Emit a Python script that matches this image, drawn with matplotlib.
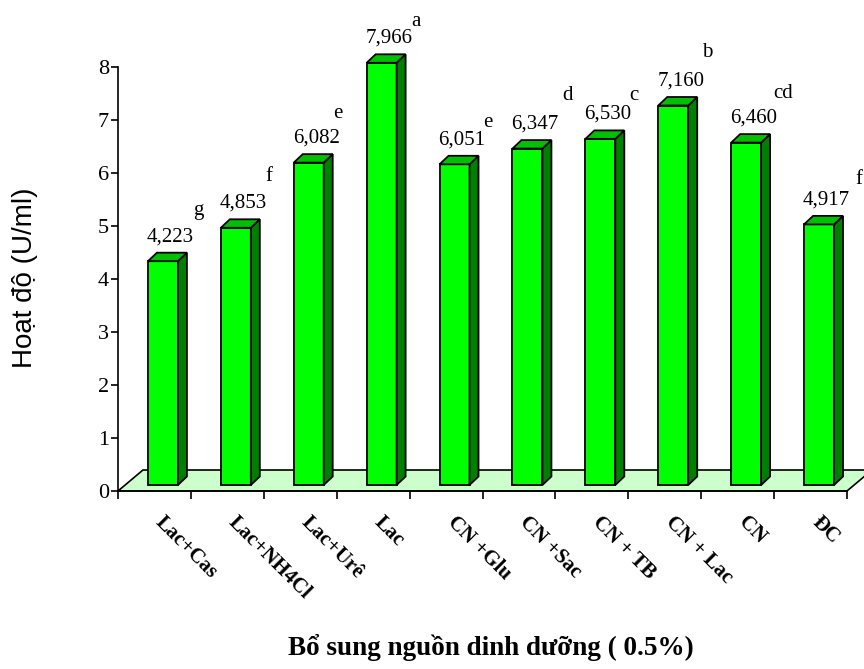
import matplotlib
matplotlib.use('Agg')
import matplotlib.pyplot as plt
from matplotlib.patches import Polygon

# data
categories = ['Lac+Cas', 'Lac+NH4Cl', 'Lac+Urê', 'Lac', 'CN +Glu', 'CN +Sac',
              'CN + TB', 'CN + Lac', 'CN', 'ĐC']
values = [4.223, 4.853, 6.082, 7.966, 6.051, 6.347, 6.530, 7.160, 6.460, 4.917]
value_labels = ['4,223', '4,853', '6,082', '7,966', '6,051', '6,347', '6,530',
                '7,160', '6,460', '4,917']
letters = ['g', 'f', 'e', 'a', 'e', 'd', 'c', 'b', 'cd', 'f']
# where each letter sits relative to its value label (pixels)
letter_off = [(28, 26), (26, 27), (22, 25), (27, 17), (26, 17), (33, 29),
              (26, 19), (26, 29), (29, 25), (32, 20)]

serif = ['Liberation Serif', 'DejaVu Serif']
px = 0.72  # points per pixel at 100 dpi

fig = plt.figure(figsize=(8.64, 6.69), dpi=100)
ax = fig.add_axes([118 / 864, (669 - 491) / 669, (847 - 118) / 864, 424 / 669])
ax.set_xlim(0, 10)
ax.set_ylim(0, 8)

# 3d geometry (in data units)
fdx, fdy = 25 / 73, 21 / 53      # floor depth
sdx, sdy = 9 / 73, 8.5 / 53      # bar side depth
w = 30 / 73                       # bar front width
shift = 8.5 / 73                  # front face shift to the right
base = 6 / 53                     # front face bottom above the floor edge

floor = Polygon([(0, 0), (10, 0), (10 + fdx, fdy), (fdx, fdy)], closed=True,
                facecolor='#ccffcc', edgecolor='black', lw=1.2, clip_on=False, zorder=1)
ax.add_patch(floor)

for i, v in enumerate(values):
    x0 = i + 0.5 + shift - w / 2
    x1 = x0 + w
    y0 = base
    y1 = v + base
    front = Polygon([(x0, y0), (x1, y0), (x1, y1), (x0, y1)], closed=True,
                    facecolor='#00ff00', edgecolor='black', lw=1.3, clip_on=False, zorder=3)
    side = Polygon([(x1, y0), (x1 + sdx, y0 + sdy), (x1 + sdx, y1 + sdy), (x1, y1)],
                   closed=True, facecolor='#008000', edgecolor='black', lw=1.3,
                   clip_on=False, zorder=3)
    top = Polygon([(x0, y1), (x1, y1), (x1 + sdx, y1 + sdy), (x0 + sdx, y1 + sdy)],
                  closed=True, facecolor='#00c000', edgecolor='black', lw=1.3,
                  clip_on=False, zorder=3)
    for p in (front, side, top):
        ax.add_patch(p)

    cx = i + 0.5 + shift + sdx / 2
    ax.annotate(value_labels[i], xy=(cx, y1 + sdy), xytext=(3 * px, 16 * px),
                textcoords='offset points', ha='center', va='center',
                fontsize=15, family=serif, annotation_clip=False, zorder=4)
    ox, oy = letter_off[i]
    ax.annotate(letters[i], xy=(cx, y1 + sdy), xytext=((3 + ox) * px, (16 + oy) * px),
                textcoords='offset points', ha='center', va='center',
                fontsize=15, family=serif, annotation_clip=False, zorder=4)

    ax.annotate(categories[i], xy=(i + 0.5, 0), xytext=(4 * px, -28 * px),
                textcoords='offset points', ha='left', va='center',
                rotation=-45, rotation_mode='anchor', fontsize=15,
                fontweight='bold', family=serif, annotation_clip=False)

for s in ('top', 'right'):
    ax.spines[s].set_visible(False)
ax.spines['bottom'].set_zorder(2)
ax.spines['left'].set_linewidth(1.2)
ax.spines['bottom'].set_linewidth(1.2)
ax.set_xticks(range(11))
ax.set_xticklabels([])
ax.set_yticks(range(9))
ax.tick_params(axis='x', direction='out', length=5.5, width=1.2)
ax.tick_params(axis='y', direction='out', length=5, width=1.2, pad=1.5)
for t in ax.get_yticklabels():
    t.set_family(serif)
    t.set_fontsize(16)

fig.text(25 / 864, 1 - 278 / 669, 'Hoạt độ (U/ml)', rotation=90, ha='center',
         va='center', fontsize=20, family=['Liberation Sans', 'DejaVu Sans'])
fig.text(491 / 864, 1 - 647 / 669, 'Bổ sung nguồn dinh dưỡng ( 0.5%)', ha='center',
         va='center', fontsize=19.5, fontweight='bold', family=serif)

fig.savefig('out.png', dpi=100)
